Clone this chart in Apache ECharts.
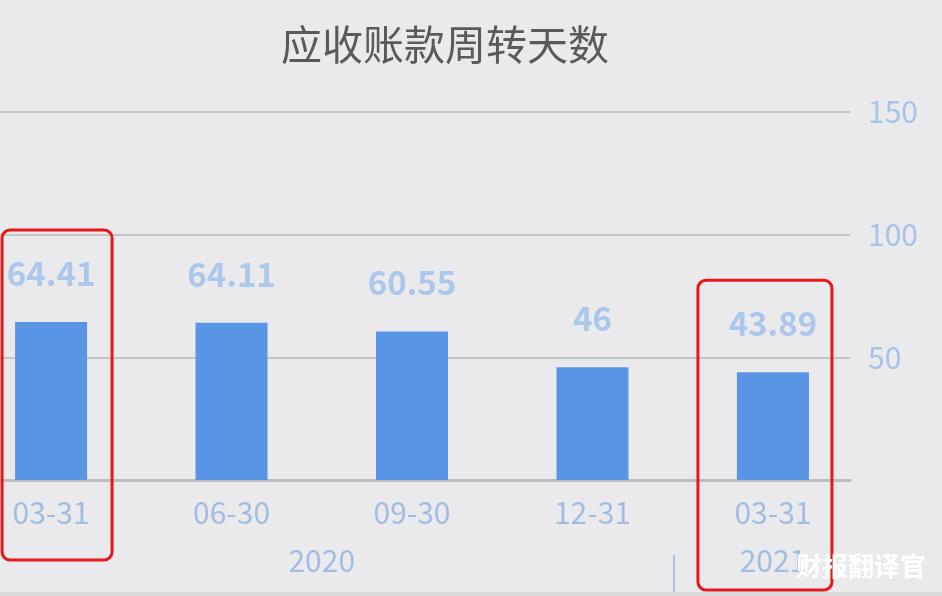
<!DOCTYPE html>
<html>
<head>
<meta charset="utf-8">
<script src="https://cdn.jsdelivr.net/npm/echarts@6/dist/echarts.min.js"></script>
<style>
html,body{margin:0;padding:0;background:#eae9eb;}
#c{width:942px;height:596px;}
</style>
</head>
<body>
<div id="c"></div>
<script>
const title = '应收账款周转天数';
const categories = ['03-31', '06-30', '09-30', '12-31', '03-31'];
const values = [64.41, 64.11, 60.55, 46, 43.89];
const yearGroups = [
  { year: '2020', first: 0, last: 3 },
  { year: '2021', first: 4, last: 4 }
];
const yMin = 0, yMax = 150, yInterval = 50;
const highlighted = [0, 4];
const watermark = '财报翻译官';

// visible window of the category scale (the chart is cropped on its left side)
const xViewMin = -0.283, xViewMax = 4.427;

const FONT = '"Noto Sans CJK SC", "Noto Sans", sans-serif';
const catIdx = categories.map((c, i) => i);
const yearCenters = yearGroups.map(g => (g.first + g.last) / 2);
const separators = yearGroups.slice(1).map(g => g.first - 0.55);

const chart = echarts.init(document.getElementById('c'), null, { renderer: 'canvas' });
chart.setOption({
  backgroundColor: '#eae9eb',
  animation: false,
  title: {
    text: title, left: 276, top: 19,
    textStyle: { fontFamily: FONT, fontSize: 41, fontWeight: 'normal', color: '#5a5a5a' }
  },
  grid: { left: 0, right: 92, top: 112, bottom: 116 },
  xAxis: [
    {
      type: 'value', gridIndex: 0, min: xViewMin, max: xViewMax,
      splitLine: { show: false },
      axisLine: { show: true, lineStyle: { color: '#bdbdbd', width: 3 } },
      axisTick: { show: false },
      axisLabel: {
        customValues: catIdx, fontFamily: FONT, fontSize: 30, color: '#a1bde2', margin: 18,
        formatter: v => categories[Math.round(v)] || ''
      }
    },
    {
      type: 'value', gridIndex: 0, min: xViewMin, max: xViewMax, position: 'bottom', offset: 75,
      axisLine: { show: false },
      splitLine: { show: false },
      axisTick: { show: true, customValues: separators, length: 37, lineStyle: { color: '#a9c3e6', width: 2 } },
      axisLabel: {
        customValues: yearCenters, verticalAlign: 'middle', margin: 6,
        fontFamily: FONT, fontSize: 30, color: '#a1bde2',
        formatter: v => { const i = yearCenters.indexOf(v); return i >= 0 ? yearGroups[i].year : ''; }
      }
    }
  ],
  yAxis: {
    type: 'value', position: 'right', min: yMin, max: yMax, interval: yInterval,
    axisLine: { show: false }, axisTick: { show: false },
    splitLine: { lineStyle: { color: '#b8b8b8', width: 1.5 } },
    axisLabel: { fontFamily: FONT, fontSize: 30, color: '#a6c3e8', margin: 18,
      formatter: v => v === 0 ? '' : String(v) }
  },
  series: [{
    type: 'bar', data: values.map((v, i) => [i, v]), barWidth: 72, xAxisIndex: 0, yAxisIndex: 0,
    itemStyle: { color: '#5a94e4' },
    label: {
      show: true, position: 'top', distance: 32,
      fontFamily: FONT, fontSize: 33, fontWeight: 'bold', color: '#abc7eb',
      formatter: p => String(p.value[1])
    }
  }]
});

// Annotation boxes and watermark, positioned from the axes' own scales
const gr = [];
highlighted.forEach((idx, k) => {
  const top = chart.convertToPixel({ xAxisIndex: 0, yAxisIndex: 0 }, [idx, values[idx]]);
  const base = chart.convertToPixel({ xAxisIndex: 0, yAxisIndex: 0 }, [idx, 0]);
  const halfW = k === 0 ? 55 : 67;
  const cx = k === 0 ? top[0] + 6 : top[0] - 8;
  const y1 = top[1] - 92;
  const y2 = base[1] + (k === 0 ? 80 : 110);
  gr.push({
    type: 'rect', z: 100,
    shape: { x: cx - halfW, y: y1, width: halfW * 2, height: y2 - y1, r: 8 },
    style: { fill: 'none', stroke: '#e3191b', lineWidth: 3 }
  });
});
gr.push({
  type: 'text', right: 16, bottom: 17, z: 110,
  style: { text: watermark, fill: '#ffffff', font: 'bold 26px ' + FONT,
    shadowBlur: 5, shadowColor: 'rgba(0,0,0,0.6)' }
});
gr.push({
  type: 'rect', left: 0, bottom: 0, z: 90,
  shape: { width: 942, height: 4 }, style: { fill: '#d9d8da' }
});
chart.setOption({ graphic: gr });
</script>
</body>
</html>
